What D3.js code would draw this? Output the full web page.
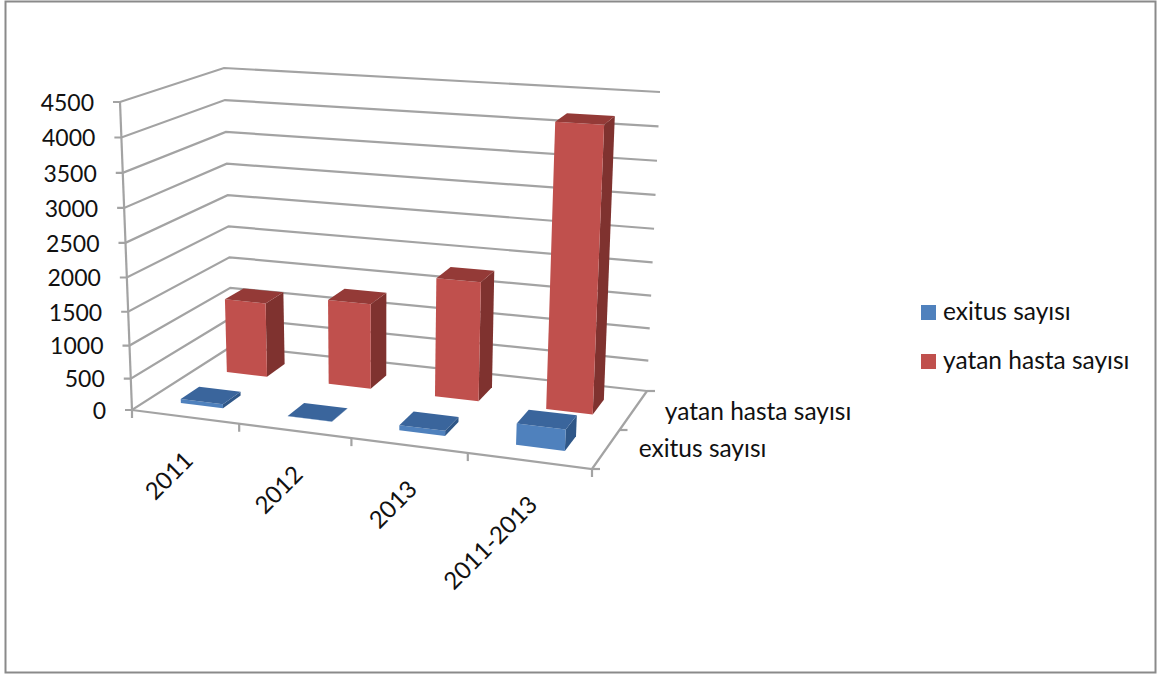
<!DOCTYPE html>
<html>
<head>
<meta charset="utf-8">
<style>
  html, body { margin: 0; padding: 0; background: #fff; }
  svg { display: block; }
  text { font-family: Lato, "Open Sans", sans-serif; fill: #111; }
</style>
</head>
<body>
<svg id="chart" width="1159" height="675"></svg>
<script src="https://cdn.jsdelivr.net/npm/d3@7/dist/d3.min.js"></script>
<script>
// Chart content
const categories = ["2011", "2012", "2013", "2011-2013"];
const seriesNames = ["exitus sayısı", "yatan hasta sayısı"];
const exitusValues = [70, 5, 85, 330];
const yatanValues = [1190, 1340, 1830, 4230];
const valueTicks = [0, 500, 1000, 1500, 2000, 2500, 3000, 3500, 4000, 4500];

// Corners of the plot box on screen: f/b = front/back, l/r = left/right, 0/1 = floor/top
const box = {
  fl0: [132, 410], fr0: [592, 469], bl0: [232, 346], br0: [647, 391],
  fl1: [120, 102], fr1: [608, 137], bl1: [224, 68], br1: [660, 92]
};

const lerp = (a, b, t) => [a[0] + (b[0] - a[0]) * t, a[1] + (b[1] - a[1]) * t];

// Category axis widens slightly toward the viewer on the right
const xWarp = d3.scaleLinear().domain([0, 1, 2, 3, 4]).range([0, 0.233, 0.477, 0.73, 1]);
const xBand = d3.scaleBand().domain(categories).range([0, 4]).paddingInner(0.6).paddingOuter(0.3);
const zBand = d3.scaleBand().domain(seriesNames).range([0.03, 0.98]).paddingInner(0.6).paddingOuter(0.3);
const yScale = d3.scalePow().exponent(1.04).domain([0, 4500]).range([0, 1]);

// Trilinear mapping from (u across, v into the depth, w up) to the screen
function project(u, v, w) {
  const floor = lerp(lerp(box.fl0, box.fr0, u), lerp(box.bl0, box.br0, u), v);
  const top = lerp(lerp(box.fl1, box.fr1, u), lerp(box.bl1, box.br1, u), v);
  return lerp(floor, top, w);
}

const svg = d3.select("#chart");
const gridColor = "#a3a3a3";
const line = d3.line();
const poly = pts => line(pts) + "Z";

// Outer frame
svg.append("rect")
  .attr("x", 5.5).attr("y", 1.5).attr("width", 1150).attr("height", 671)
  .attr("fill", "#fff").attr("stroke", "#8a8a8a").attr("stroke-width", 2);

// Wall gridlines and value axis
const grid = svg.append("g").attr("fill", "none").attr("stroke", gridColor).attr("stroke-width", 2.2);
valueTicks.forEach(t => {
  const w = yScale(t);
  const fl = project(0, 0, w), bl = project(0, 1, w), br = project(1, 1, w);
  grid.append("path").attr("d", line([[fl[0] - 7, fl[1]], fl, bl, br]));
  svg.append("text")
    .attr("x", fl[0] - 26).attr("y", fl[1] + 3)
    .attr("text-anchor", "end").attr("dominant-baseline", "middle")
    .attr("font-size", 23)
    .text(d3.format("d")(t));
});
grid.append("path").attr("d", line([project(0, 0, yScale(4500)), project(0, 0, 0)]));

// Floor edges
grid.append("path").attr("d", line([project(0, 0, 0), project(1, 0, 0), project(1, 1, 0)]));

// Category ticks and rotated labels
d3.range(5).forEach(i => {
  const p = project(xWarp(i), 0, 0);
  grid.append("path").attr("d", line([p, [p[0], p[1] + 8]]));
});
categories.forEach(c => {
  const mid = xWarp(xBand(c) + xBand.bandwidth() / 2);
  const p = project(mid, 0, 0);
  svg.append("text")
    .attr("transform", `translate(${p[0] + 9},${p[1] + 45}) rotate(-45)`)
    .attr("text-anchor", "end")
    .attr("font-size", 24)
    .text(c);
});

// Depth ticks and series labels
[0, 0.5, 1].forEach(v => {
  const p = project(1, v, 0);
  grid.append("path").attr("d", line([p, [p[0] + 8, p[1]]]));
});
seriesNames.forEach(s => {
  const p = project(1, zBand(s) + zBand.bandwidth() / 2, 0);
  svg.append("text")
    .attr("x", p[0] + 32).attr("y", p[1] + 9)
    .attr("font-size", 24.5)
    .text(s);
});

// Bars, back row first so nearer boxes overlap farther ones
const palette = {
  "exitus sayısı": { front: "#4f81bd", side: "#2f5788", top: "#3a659c" },
  "yatan hasta sayısı": { front: "#c0504d", side: "#7f322f", top: "#943a37" }
};
const seriesValues = { "exitus sayısı": exitusValues, "yatan hasta sayısı": yatanValues };

[...seriesNames].reverse().forEach(s => {
  const c = palette[s];
  const v0 = zBand(s), v1 = v0 + zBand.bandwidth();
  categories.forEach((cat, i) => {
    const u0 = xWarp(xBand(cat)), u1 = xWarp(xBand(cat) + xBand.bandwidth());
    const h = yScale(seriesValues[s][i]);
    const g = svg.append("g");
    g.append("path").attr("fill", c.side)
      .attr("d", poly([project(u1, v0, 0), project(u1, v1, 0), project(u1, v1, h), project(u1, v0, h)]));
    g.append("path").attr("fill", c.front)
      .attr("d", poly([project(u0, v0, 0), project(u1, v0, 0), project(u1, v0, h), project(u0, v0, h)]));
    g.append("path").attr("fill", c.top)
      .attr("d", poly([project(u0, v0, h), project(u1, v0, h), project(u1, v1, h), project(u0, v1, h)]));
  });
});

// Legend
seriesNames.forEach((s, i) => {
  const y = 305 + i * 49;
  svg.append("rect").attr("x", 921).attr("y", y).attr("width", 15).attr("height", 15)
    .attr("fill", palette[s].front);
  svg.append("text").attr("x", 943).attr("y", y + 15)
    .attr("font-size", 24.5)
    .text(s);
});
</script>
</body>
</html>
